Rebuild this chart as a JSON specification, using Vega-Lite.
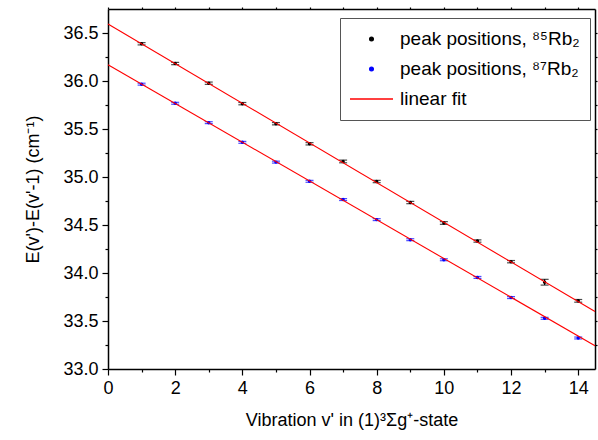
{
  "$schema": "https://vega.github.io/schema/vega-lite/v6.json",
  "width": 487,
  "height": 360,
  "autosize": {"type": "none"},
  "padding": {"left": 108, "top": 9, "right": 3, "bottom": 71},
  "background": "white",
  "config": {
    "view": {"stroke": null},
    "font": "Liberation Sans",
    "axis": {"labelFont": "Liberation Sans", "titleFont": "Liberation Sans", "grid": false, "domainColor": "black", "tickColor": "black", "labelColor": "black", "titleColor": "black", "labelFontSize": 18, "titleFontSize": 18, "titleFontWeight": "normal", "domainWidth": 1.5, "tickWidth": 1.2}
  },
  "datasets": {
    "peaks": [
      {"v": 1, "E": 36.388, "lo": 36.376, "hi": 36.400, "series": "peak positions, ⁸⁵Rb₂"},
      {"v": 2, "E": 36.182, "lo": 36.170, "hi": 36.194, "series": "peak positions, ⁸⁵Rb₂"},
      {"v": 3, "E": 35.977, "lo": 35.965, "hi": 35.989, "series": "peak positions, ⁸⁵Rb₂"},
      {"v": 4, "E": 35.764, "lo": 35.752, "hi": 35.776, "series": "peak positions, ⁸⁵Rb₂"},
      {"v": 5, "E": 35.555, "lo": 35.543, "hi": 35.567, "series": "peak positions, ⁸⁵Rb₂"},
      {"v": 6, "E": 35.346, "lo": 35.334, "hi": 35.358, "series": "peak positions, ⁸⁵Rb₂"},
      {"v": 7, "E": 35.162, "lo": 35.148, "hi": 35.176, "series": "peak positions, ⁸⁵Rb₂"},
      {"v": 8, "E": 34.953, "lo": 34.941, "hi": 34.965, "series": "peak positions, ⁸⁵Rb₂"},
      {"v": 9, "E": 34.734, "lo": 34.722, "hi": 34.746, "series": "peak positions, ⁸⁵Rb₂"},
      {"v": 10, "E": 34.521, "lo": 34.507, "hi": 34.535, "series": "peak positions, ⁸⁵Rb₂"},
      {"v": 11, "E": 34.333, "lo": 34.321, "hi": 34.345, "series": "peak positions, ⁸⁵Rb₂"},
      {"v": 12, "E": 34.118, "lo": 34.106, "hi": 34.130, "series": "peak positions, ⁸⁵Rb₂"},
      {"v": 13, "E": 33.904, "lo": 33.874, "hi": 33.934, "series": "peak positions, ⁸⁵Rb₂"},
      {"v": 14, "E": 33.710, "lo": 33.696, "hi": 33.724, "series": "peak positions, ⁸⁵Rb₂"},
      {"v": 1, "E": 35.967, "lo": 35.957, "hi": 35.977, "series": "peak positions, ⁸⁷Rb₂"},
      {"v": 2, "E": 35.768, "lo": 35.758, "hi": 35.778, "series": "peak positions, ⁸⁷Rb₂"},
      {"v": 3, "E": 35.566, "lo": 35.556, "hi": 35.576, "series": "peak positions, ⁸⁷Rb₂"},
      {"v": 4, "E": 35.361, "lo": 35.351, "hi": 35.371, "series": "peak positions, ⁸⁷Rb₂"},
      {"v": 5, "E": 35.155, "lo": 35.145, "hi": 35.165, "series": "peak positions, ⁸⁷Rb₂"},
      {"v": 6, "E": 34.955, "lo": 34.945, "hi": 34.965, "series": "peak positions, ⁸⁷Rb₂"},
      {"v": 7, "E": 34.765, "lo": 34.755, "hi": 34.775, "series": "peak positions, ⁸⁷Rb₂"},
      {"v": 8, "E": 34.556, "lo": 34.546, "hi": 34.566, "series": "peak positions, ⁸⁷Rb₂"},
      {"v": 9, "E": 34.347, "lo": 34.337, "hi": 34.357, "series": "peak positions, ⁸⁷Rb₂"},
      {"v": 10, "E": 34.138, "lo": 34.128, "hi": 34.148, "series": "peak positions, ⁸⁷Rb₂"},
      {"v": 11, "E": 33.954, "lo": 33.944, "hi": 33.964, "series": "peak positions, ⁸⁷Rb₂"},
      {"v": 12, "E": 33.744, "lo": 33.734, "hi": 33.754, "series": "peak positions, ⁸⁷Rb₂"},
      {"v": 13, "E": 33.528, "lo": 33.518, "hi": 33.538, "series": "peak positions, ⁸⁷Rb₂"},
      {"v": 14, "E": 33.323, "lo": 33.313, "hi": 33.333, "series": "peak positions, ⁸⁷Rb₂"}
    ],
    "fits": [
      {"v": 0, "E": 36.594, "iso": "85", "series": "linear fit"},
      {"v": 14.5, "E": 33.598, "iso": "85", "series": "linear fit"},
      {"v": 0, "E": 36.169, "iso": "87", "series": "linear fit"},
      {"v": 14.5, "E": 33.243, "iso": "87", "series": "linear fit"}
    ]
  },
  "resolve": {"axis": {"x": "independent", "y": "independent"}},
  "layer": [
    {
      "data": {"name": "peaks"},
      "mark": {"type": "rule", "strokeWidth": 1.2},
      "encoding": {
        "x": {"field": "v", "type": "quantitative", "scale": {"domain": [0, 14.5], "nice": false, "zero": false},
          "axis": {"orient": "bottom", "values": [0, 2, 4, 6, 8, 10, 12, 14], "tickSize": 6, "labelPadding": 4, "title": "Vibration v' in (1)³Σg⁺-state", "titlePadding": 14, "labelFlush": false}},
        "y": {"field": "lo", "type": "quantitative", "scale": {"domain": [33, 36.75], "nice": false, "zero": false},
          "axis": {"orient": "left", "values": [33, 33.5, 34, 34.5, 35, 35.5, 36, 36.5], "format": ".1f", "tickSize": 6, "labelPadding": 4, "title": "E(v')-E(v'-1) (cm⁻¹)", "titlePadding": 20, "labelFlush": false}},
        "y2": {"field": "hi"},
        "color": {"field": "series", "type": "nominal", "scale": {"domain": ["peak positions, ⁸⁵Rb₂", "peak positions, ⁸⁷Rb₂", "linear fit"], "range": ["#000000", "#0000ff", "#ff0000"]},
          "legend": {
            "orient": "none", "legendX": 232, "legendY": 9,
            "title": null,
            "strokeColor": "#555555",
            "padding": 10,
            "labelFont": "Liberation Sans", "labelFontSize": 19, "labelColor": "black",
            "labelOffset": 19, "symbolOffset": 12, "rowPadding": 8, "labelLimit": 400,
            "clipHeight": 22,
            "symbolStrokeWidth": 1.3,
            "values": ["peak positions, ⁸⁵Rb₂", "peak positions, ⁸⁷Rb₂", "linear fit"],
            "encode": {
              "symbols": {"update": {
                "shape": {"signal": "datum.value === 'linear fit' ? 'stroke' : 'circle'"},
                "size": {"signal": "datum.value === 'linear fit' ? 1849 : 14"},
                "fill": {"signal": "datum.value === 'linear fit' ? 'transparent' : scale('color', datum.value)"},
                "stroke": {"signal": "datum.value === 'linear fit' ? '#ff5555' : 'transparent'"},
                "strokeWidth": {"value": 1.3},
                "opacity": {"value": 1}
              }}
            }
          }}
      }
    },
    {
      "data": {"name": "peaks"},
      "mark": {"type": "tick", "orient": "horizontal", "size": 8, "thickness": 1.2, "opacity": 0.7},
      "encoding": {
        "x": {"field": "v", "type": "quantitative", "axis": {"orient": "bottom", "values": [1, 3, 5, 7, 9, 11, 13], "tickSize": 3, "labels": false, "domain": false, "title": null}},
        "y": {"field": "lo", "type": "quantitative", "axis": {"orient": "left", "values": [33.25, 33.75, 34.25, 34.75, 35.25, 35.75, 36.25], "tickSize": 3, "labels": false, "domain": false, "title": null}},
        "color": {"field": "series", "type": "nominal"}
      }
    },
    {
      "data": {"name": "peaks"},
      "mark": {"type": "tick", "orient": "horizontal", "size": 8, "thickness": 1.2, "opacity": 0.7},
      "encoding": {
        "x": {"field": "v", "type": "quantitative", "axis": {"orient": "top", "values": [0, 1, 2, 3, 4, 5, 6, 7, 8, 9, 10, 11, 12, 13, 14], "tickSize": 2, "labels": false, "domain": true, "title": null}},
        "y": {"field": "hi", "type": "quantitative", "axis": {"orient": "right", "values": [33.25, 33.5, 33.75, 34, 34.25, 34.5, 34.75, 35, 35.25, 35.5, 35.75, 36, 36.25, 36.5], "tickSize": 2, "labels": false, "domain": true, "title": null}},
        "color": {"field": "series", "type": "nominal"}
      }
    },
    {
      "data": {"name": "peaks"},
      "mark": {"type": "point", "filled": true, "shape": "circle", "size": 12, "opacity": 1},
      "encoding": {
        "x": {"field": "v", "type": "quantitative", "axis": null},
        "y": {"field": "E", "type": "quantitative", "axis": null},
        "color": {"field": "series", "type": "nominal"}
      }
    },
    {
      "data": {"name": "fits"},
      "mark": {"type": "line", "strokeWidth": 1.1},
      "encoding": {
        "x": {"field": "v", "type": "quantitative", "axis": null},
        "y": {"field": "E", "type": "quantitative", "axis": null},
        "detail": {"field": "iso"},
        "color": {"field": "series", "type": "nominal"}
      }
    }
  ]
}
